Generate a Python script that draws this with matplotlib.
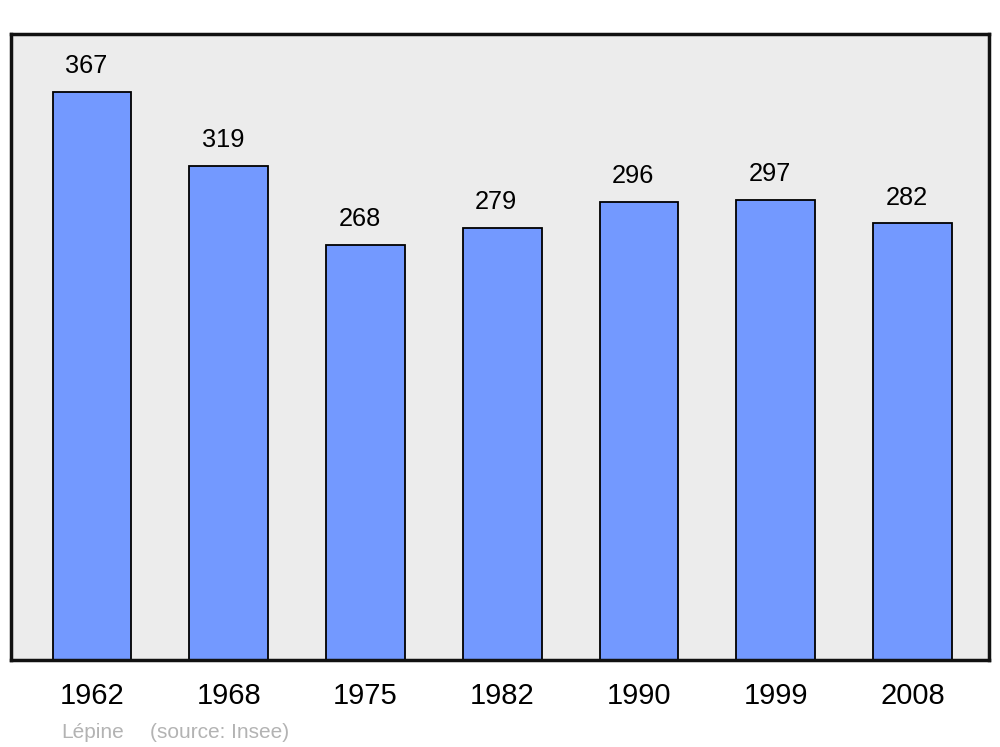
import matplotlib
matplotlib.use("Agg")
import matplotlib.pyplot as plt

plt.rcParams["font.family"] = ["Liberation Sans", "DejaVu Sans"]

years = ["1962", "1968", "1975", "1982", "1990", "1999", "2008"]
population = [367, 319, 268, 279, 296, 297, 282]

fig = plt.figure(figsize=(10, 7.47), dpi=100)
ax = fig.add_axes([0.011, 0.1165, 0.978, 0.838])
ax.set_facecolor("#ececec")

x = list(range(len(years)))
ax.bar(x, population, width=0.575, color="#7399ff", edgecolor="black", linewidth=1.3, zorder=2)

for xi, v in zip(x, population):
    ax.annotate(str(v), (xi, v), xytext=(-4.3, 13.5), textcoords="offset points",
                ha="center", va="baseline", fontsize=18.3, color="black")

ax.set_xlim(-0.592, 6.559)
ax.set_ylim(0, 404.4)
ax.set_xticks(x)
ax.set_xticklabels(years, fontsize=21)
ax.tick_params(axis="x", length=0, pad=16)
ax.set_yticks([])
for s in ax.spines.values():
    s.set_linewidth(2.5)
    s.set_color("#111111")

# footer
fig.text(0.061, 0.012, "Lépine", fontsize=15, color="#b3b3b3", va="baseline")
fig.text(0.150, 0.012, "(source: Insee)", fontsize=15, color="#b3b3b3", va="baseline")

fig.savefig("out.png", dpi=100)
